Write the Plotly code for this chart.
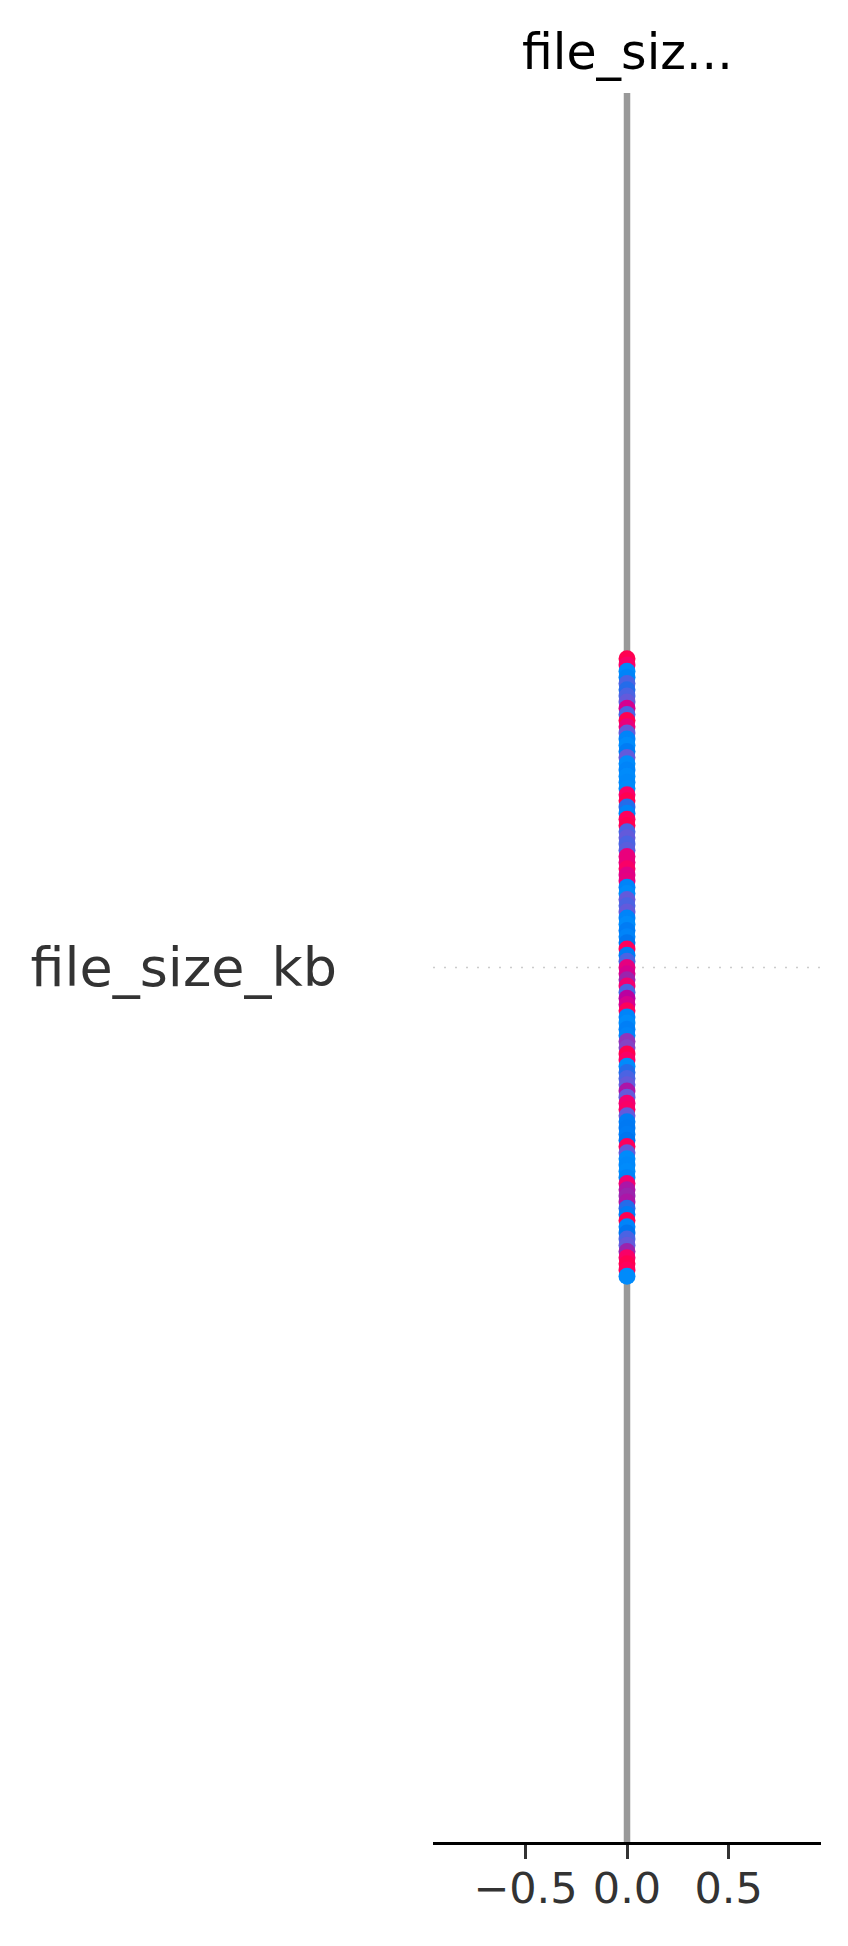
import math
import plotly.graph_objects as go

# ---------------- data ----------------
feature_names = ["file_size_kb"]
title_text = "file_siz..."
x_tick_vals = [-0.5, 0.0, 0.5]
x_tick_text = ["\u22120.5", "0.0", "0.5"]

# SHAP values of every sample (all zero for this feature)
shap_values = [0.0] * 101
# normalised feature values (0 = low -> blue, 1 = high -> red), listed top-to-bottom in the swarm
feature_values = [
    1.0, 0.9, 0.0, 0.05, 0.25, 0.2, 0.25, 0.3, 0.7, 0.25,
    1.0, 0.8, 0.3, 0.05, 0.0, 0.1, 0.3, 0.0, 0.05, 0.0,
    0.02, 0.0, 0.9, 1.0, 0.2, 0.05, 0.95, 1.0, 0.25, 0.3,
    0.25, 0.28, 0.8, 0.8, 0.9, 0.75, 0.78, 0.05, 0.0, 0.3,
    0.25, 0.3, 0.05, 0.0, 0.1, 0.05, 0.15, 0.95, 0.1, 0.25,
    0.78, 0.7, 0.5, 0.85, 0.25, 0.6, 0.7, 0.95, 0.05, 0.0,
    0.08, 0.05, 0.45, 0.4, 1.0, 0.9, 0.0, 0.2, 0.25, 0.3,
    0.55, 0.3, 0.85, 0.9, 0.3, 0.1, 0.12, 0.1, 0.15, 0.95,
    0.3, 0.0, 0.02, 0.0, 0.05, 0.85, 0.55, 0.5, 0.55, 0.2,
    0.1, 1.0, 0.05, 0.15, 0.25, 0.3, 0.5, 0.9, 1.0, 0.95,
    0.0,
]

# ---------------- SHAP red_blue colormap (Lch interpolation) ----------------
def lch_to_rgb(L, C, h):
    a = C * math.cos(h)
    b = C * math.sin(h)
    fy = (L + 16) / 116
    fx = fy + a / 500
    fz = fy - b / 200

    def finv(t):
        return t ** 3 if t > 6 / 29 else 3 * (6 / 29) ** 2 * (t - 4 / 29)

    X = 0.95047 * finv(fx)
    Y = finv(fy)
    Z = 1.08883 * finv(fz)
    r = 3.2406 * X - 1.5372 * Y - 0.4986 * Z
    g = -0.9689 * X + 1.8758 * Y + 0.0415 * Z
    bb = 0.0557 * X - 0.2040 * Y + 1.0570 * Z

    def gam(c):
        c = 12.92 * c if c <= 0.0031308 else 1.055 * (max(c, 0) ** (1 / 2.4)) - 0.055
        return min(max(c, 0.0), 1.0)

    return gam(r), gam(g), gam(bb)


blue_lch = (54.0, 70.0, 4.6588)
red_lch = (54.0, 90.0, 0.35470565 + 2 * math.pi)
l_mid = 40.0
n_stops = 21
colorscale = []
for i in range(n_stops):
    t = i / (n_stops - 1)
    if i == 0:
        rgb = (0.0, 0.5433775692618697, 0.983379062301401)
    elif i == n_stops - 1:
        rgb = (1.0, 0.0, 0.31796406298163893)
    else:
        L = blue_lch[0] + (l_mid - blue_lch[0]) * (t / 0.5) if t <= 0.5 else l_mid + (red_lch[0] - l_mid) * ((t - 0.5) / 0.5)
        C = blue_lch[1] + (red_lch[1] - blue_lch[1]) * t
        H = blue_lch[2] + (red_lch[2] - blue_lch[2]) * t
        rgb = lch_to_rgb(L, C, H)
    colorscale.append([t, "rgb(%d,%d,%d)" % tuple(round(255 * c) for c in rgb)])

# ---------------- beeswarm layout (row jitter, as shap computes it) ----------------
row_height = 0.4
n = len(shap_values)
half = (n - 1) // 2
y_pos = [0 + (half - k) * 0.9 * row_height / (half + 1) for k in range(n)]

fig = go.Figure()
fig.add_trace(
    go.Scatter(
        x=shap_values,
        y=y_pos,
        mode="markers",
        marker=dict(
            size=17,
            color=feature_values,
            colorscale=colorscale,
            cmin=0,
            cmax=1,
            line=dict(width=0),
            opacity=1,
        ),
        showlegend=False,
        hoverinfo="skip",
    )
)

# zero line and row guide
fig.add_shape(type="line", xref="x", yref="paper", x0=0, x1=0, y0=0, y1=1,
              line=dict(color="#999999", width=6.5), layer="below")
fig.add_shape(type="line", xref="paper", yref="y", x0=0, x1=1, y0=0, y1=0,
              line=dict(color="#cccccc", width=1.5, dash="2px,9px"), layer="below")

fig.add_annotation(
    text=title_text, xref="paper", yref="paper", x=0.5, y=1,
    xanchor="center", yanchor="bottom", yshift=10, showarrow=False,
    font=dict(family="DejaVu Sans", size=49, color="black"),
)

fig.update_layout(
    width=848,
    height=1946,
    margin=dict(l=425, r=35, t=85, b=112),
    paper_bgcolor="white",
    plot_bgcolor="white",
    font=dict(family="DejaVu Sans", color="#333333"),
    xaxis=dict(
        range=[-0.955, 0.955],
        tickvals=x_tick_vals,
        ticktext=x_tick_text,
        ticks="outside",
        ticklen=14,
        tickwidth=3,
        tickcolor="#333333",
        showline=True,
        linecolor="black",
        linewidth=3,
        showgrid=False,
        zeroline=False,
        ticklabelstandoff=-8,
        tickfont=dict(size=43, color="#333333", family="DejaVu Sans"),
    ),
    yaxis=dict(
        range=[-1, 1],
        tickvals=[0],
        ticktext=feature_names,
        ticks="",
        showline=False,
        showgrid=False,
        zeroline=False,
        ticklabelstandoff=95,
        tickfont=dict(size=54, color="#333333", family="DejaVu Sans"),
    ),
)

fig.write_html("out.html")
